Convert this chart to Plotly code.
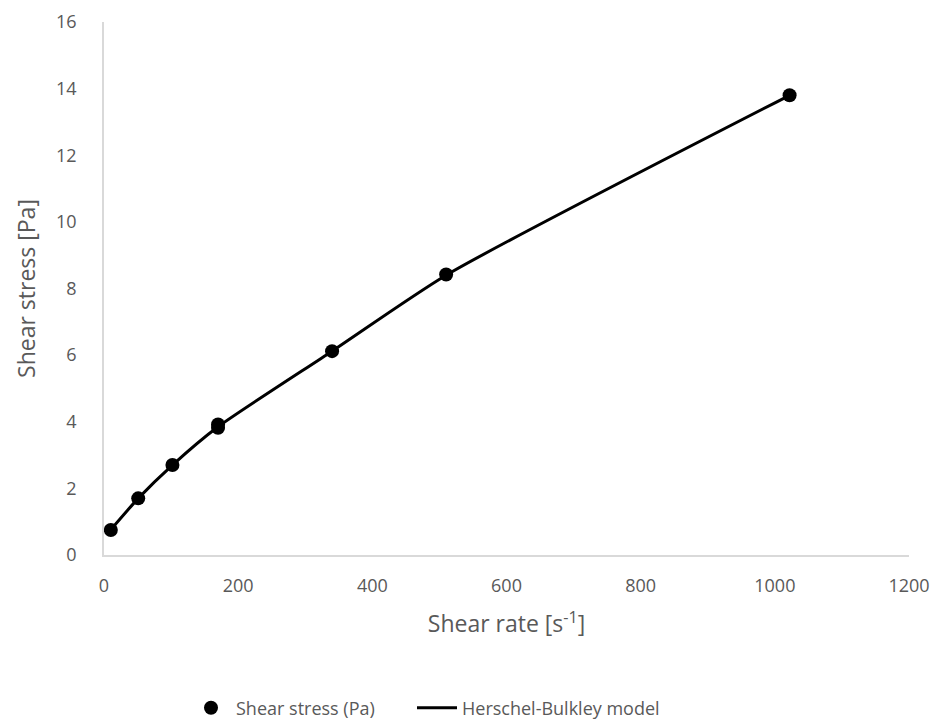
import plotly.graph_objects as go

shear_rate = [10.2, 51, 102, 170, 170, 340, 510, 1022]
shear_stress = [0.75, 1.70, 2.70, 3.92, 3.82, 6.12, 8.42, 13.80]

model_rate = [10.2, 51, 102, 170, 340, 510, 1022]
model_stress = [0.76, 1.70, 2.70, 3.85, 6.12, 8.40, 13.80]

font_family = "Open Sans, Noto Sans, sans-serif"
grey = "#595959"

fig = go.Figure()
fig.add_trace(go.Scatter(
    x=shear_rate, y=shear_stress, mode="markers", name="Shear stress (Pa)",
    marker=dict(color="black", size=14), legend="legend", showlegend=True,
))
fig.add_trace(go.Scatter(
    x=model_rate, y=model_stress, mode="lines", name="Herschel-Bulkley model",
    line=dict(color="black", width=3, shape="spline", smoothing=0.6),
    legend="legend2", showlegend=True,
))

leg_common = dict(orientation="h", xref="container", xanchor="left",
                  yref="container", y=12 / 720, yanchor="middle", visible=True,
                  itemwidth=40, font=dict(size=18, color=grey))

fig.update_layout(
    width=936, height=720,
    showlegend=True,
    margin=dict(l=104, r=27, t=22, b=165, autoexpand=False),
    plot_bgcolor="white", paper_bgcolor="white",
    font=dict(family=font_family, color=grey, size=18),
    legend=dict(x=186 / 936, **leg_common),
    legend2=dict(x=412 / 936, **leg_common),
    xaxis=dict(
        range=[0, 1200], dtick=200, showgrid=False, zeroline=False,
        showline=True, linecolor="#d9d9d9", linewidth=1.5,
        ticks="", ticklabelstandoff=14, tickfont=dict(size=18),
        title=dict(text="Shear rate [s<sup>-1</sup>]", font=dict(size=23, color=grey), standoff=20),
    ),
    yaxis=dict(
        range=[0, 16], dtick=2, showgrid=False, zeroline=False,
        showline=True, linecolor="#d9d9d9", linewidth=1.5,
        ticks="", ticklabelstandoff=22, tickfont=dict(size=18),
        title=dict(text="Shear stress [Pa]", font=dict(size=23, color=grey), standoff=14),
    ),
)

fig.write_html("out.html")
